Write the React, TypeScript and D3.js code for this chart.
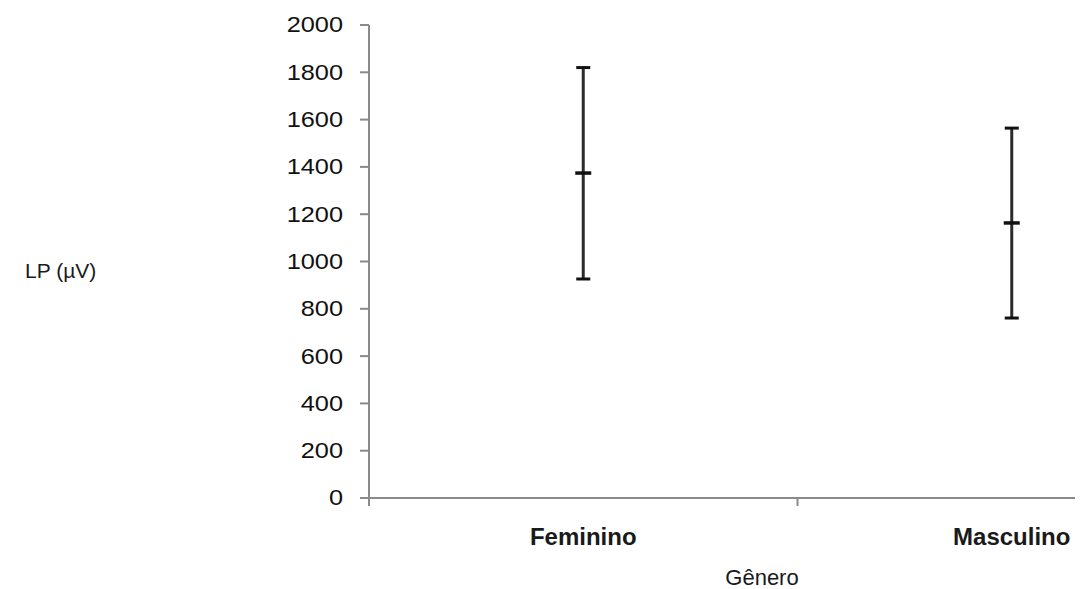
import React from "react";
import * as d3 from "d3";

// Chart values
const categories = ["Feminino", "Masculino"];
const means = [1374, 1163];
const upper = [1820, 1564];
const lower = [926, 761];
const yTicks = [0, 200, 400, 600, 800, 1000, 1200, 1400, 1600, 1800, 2000];

const W = 1083;
const H = 589;

export default function App() {
  const x = d3.scaleBand<string>().domain(categories).range([369, 1226]).padding(0);
  const y = d3.scaleLinear().domain([0, 2000]).range([498, 25]);

  const axisColor = "#8a8a8a";
  const barColor = "#2b2b2b";
  const font = "'Liberation Sans', Arial, sans-serif";
  const x0 = x.range()[0];
  const midTick = (x(categories[1]) as number);

  return (
    <div style={{ position: "absolute", left: 0, top: 0 }}>
      <svg width={W} height={H} style={{ display: "block", background: "#fff" }}>
        {/* y axis */}
        <line x1={x0} x2={x0} y1={y(2000)} y2={y(0) + 8} stroke={axisColor} strokeWidth={2} />
        {yTicks.map((t) => (
          <g key={t}>
            <line x1={x0 - 9} x2={x0} y1={y(t)} y2={y(t)} stroke={axisColor} strokeWidth={2} />
            <text
              transform={`translate(343,${y(t)}) scale(1.15,1)`}
              textAnchor="end"
              dominantBaseline="central"
              fontFamily={font}
              fontSize={22}
              fill="#111"
            >
              {t}
            </text>
          </g>
        ))}

        {/* x axis */}
        <line x1={x0 - 9} x2={1075} y1={y(0)} y2={y(0)} stroke={axisColor} strokeWidth={2} />
        <line x1={midTick} x2={midTick} y1={y(0)} y2={y(0) + 8} stroke={axisColor} strokeWidth={2} />
        {categories.map((c) => {
          const cx = (x(c) as number) + x.bandwidth() / 2;
          return (
            <text
              key={c}
              x={cx}
              y={545}
              textAnchor="middle"
              fontFamily={font}
              fontWeight="bold"
              fontSize={24}
              fill="#1a1a1a"
            >
              {c}
            </text>
          );
        })}

        {/* error bars */}
        {categories.map((c, i) => {
          const cx = (x(c) as number) + x.bandwidth() / 2;
          return (
            <g key={c}>
              <line x1={cx} x2={cx} y1={y(upper[i])} y2={y(lower[i])} stroke={barColor} strokeWidth={3} />
              <line x1={cx - 7} x2={cx + 7} y1={y(upper[i])} y2={y(upper[i])} stroke="#111" strokeWidth={3} />
              <line x1={cx - 7} x2={cx + 7} y1={y(lower[i])} y2={y(lower[i])} stroke="#111" strokeWidth={3} />
              <line x1={cx - 8} x2={cx + 8} y1={y(means[i])} y2={y(means[i])} stroke="#111" strokeWidth={3.5} />
            </g>
          );
        })}

        {/* axis titles */}
        <text x={762} y={585} textAnchor="middle" fontFamily={font} fontSize={22} fill="#1a1a1a">
          Gênero
        </text>
        <text x={25} y={278} fontFamily={font} fontSize={21} fill="#1a1a1a">
          LP (µV)
        </text>
      </svg>
    </div>
  );
}
